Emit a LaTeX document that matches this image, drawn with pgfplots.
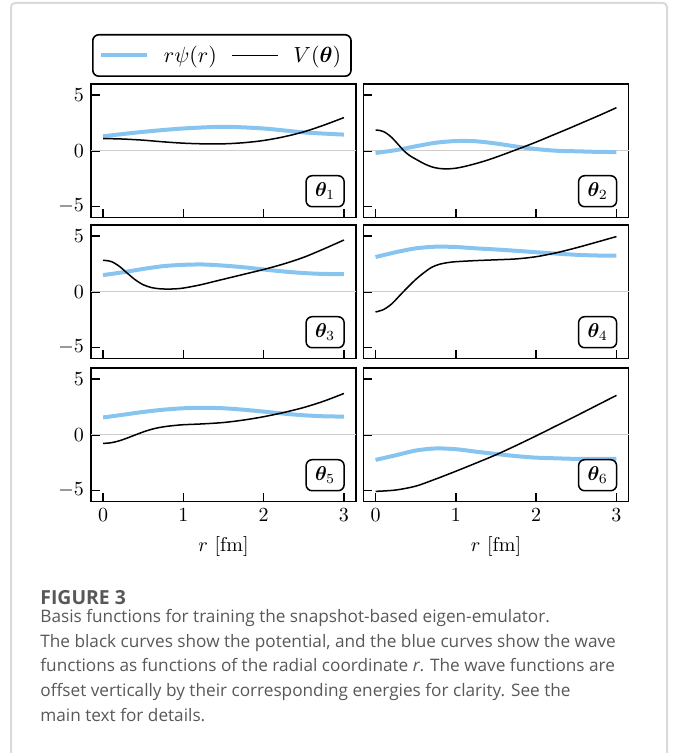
\documentclass[border=0pt]{standalone}
\usepackage{pgfplots}
\pgfplotsset{compat=1.18}
\usepackage{amsmath,bm}
\usepackage{fontspec}
\newfontfamily\capfont{Open Sans}
\definecolor{wfblue}{RGB}{135,196,240}
\definecolor{zerogray}{RGB}{205,205,205}
\definecolor{capgray}{RGB}{88,88,88}
\definecolor{framegray}{RGB}{218,218,218}
\tikzset{
  lab/.style={draw=black, line width=0.75pt, rounded corners=3pt, fill=white,
    anchor=south east, minimum width=19pt, minimum height=15.5pt, inner sep=2pt},
}
\pgfplotsset{
  panel/.style={
    scale only axis, width=132.5pt, height=66.75pt,
    anchor=south west,
    xmin=-0.15, xmax=3.15, ymin=-6, ymax=6,
    xtick={0,1,2,3}, ytick={-5,0,5},
    tick align=inside, xtick pos=bottom, ytick pos=left,
    major tick length=4.25pt,
    axis line style={line width=0.9pt},
    every tick/.style={black, line width=0.8pt},
    xticklabels={},
    clip=false,
  },
  wf/.style={wfblue, line width=2pt, smooth},
  pot/.style={black, line width=0.75pt, smooth},
  zl/.style={zerogray, line width=0.6pt, forget plot},
}
\begin{document}
\begin{tikzpicture}
\useasboundingbox (0pt,0pt) rectangle (339pt,376.5pt);
% frame
\draw[framegray, line width=1pt, rounded corners=2pt] (5.5pt,0pt) -- (5.5pt,375pt) -- (333.5pt,375pt) -- (333.5pt,0pt);

% ---------- panel 1 ----------
\begin{axis}[panel, at={(45.5pt,267.75pt)},
  legend columns=2,
  legend style={at={(axis description cs:0,1)}, anchor=south west, yshift=3.5pt, xshift=0.5pt,
    draw=black, line width=0.8pt, rounded corners=3pt, inner xsep=3pt, inner ysep=3.5pt,
    font=\fontsize{11}{13}\selectfont,
    /tikz/every odd column/.append style={column sep=5.5pt},
    /tikz/every even column/.append style={column sep=5pt}},
  legend image code/.code={\draw[#1] (0pt,0pt) -- (23pt,0pt);},
]
\addplot[zl] coordinates {(-0.15,0) (3.15,0)};
\addplot[wf] coordinates {(0,1.3) (0.5,1.7) (1,2.0) (1.5,2.15) (2,2.0) (2.5,1.65) (3,1.45)};
\addlegendentry{$r\psi(r)$}
\addplot[pot] coordinates {(0,1.1) (0.25,1.05) (0.5,0.95) (0.75,0.8) (1,0.68) (1.25,0.62) (1.5,0.62) (1.75,0.72) (2,0.92) (2.25,1.25) (2.5,1.7) (2.75,2.3) (3,2.98)};
\addlegendentry{$V(\boldsymbol{\theta})$}
\node[lab] at (rel axis cs:0.958,0.075) {$\boldsymbol{\theta}_1$};
\end{axis}

% ---------- panel 2 ----------
\begin{axis}[panel, at={(181.75pt,267.75pt)}, yticklabels={}]
\addplot[zl] coordinates {(-0.15,0) (3.15,0)};
\addplot[wf] coordinates {(0,-0.2) (0.25,0.05) (0.5,0.4) (0.75,0.72) (1,0.87) (1.25,0.85) (1.5,0.65) (1.75,0.38) (2,0.15) (2.25,0.0) (2.5,-0.05) (2.75,-0.1) (3,-0.12)};
\addplot[pot] coordinates {(0,1.85) (0.05,1.83) (0.1,1.72) (0.15,1.5) (0.2,1.2) (0.25,0.82) (0.3,0.42) (0.35,0.02) (0.4,-0.3) (0.45,-0.55) (0.5,-0.75) (0.6,-1.15) (0.7,-1.45) (0.8,-1.6) (0.9,-1.63) (1.0,-1.57) (1.1,-1.43) (1.2,-1.25) (1.3,-1.05) (1.4,-0.83) (1.5,-0.58) (1.6,-0.32) (1.7,-0.05) (1.8,0.22) (2.0,0.78) (2.2,1.38) (2.4,1.98) (2.6,2.6) (2.8,3.22) (3.0,3.87)};
\node[lab] at (rel axis cs:0.958,0.075) {$\boldsymbol{\theta}_2$};
\end{axis}

% ---------- panel 3 ----------
\begin{axis}[panel, at={(45.5pt,197.25pt)}]
\addplot[zl] coordinates {(-0.15,0) (3.15,0)};
\addplot[wf] coordinates {(0,1.5) (0.25,1.75) (0.5,2.05) (0.75,2.3) (1,2.42) (1.25,2.45) (1.5,2.35) (1.75,2.2) (2,2.0) (2.25,1.82) (2.5,1.68) (2.75,1.6) (3,1.58)};
\addplot[pot] coordinates {(0,2.83) (0.1,2.72) (0.2,2.3) (0.3,1.68) (0.4,1.08) (0.5,0.63) (0.6,0.38) (0.7,0.27) (0.8,0.24) (0.9,0.26) (1.0,0.33) (1.2,0.6) (1.4,0.95) (1.6,1.3) (1.8,1.65) (2.0,2.0) (2.25,2.5) (2.5,3.1) (2.75,3.85) (3,4.65)};
\node[lab] at (rel axis cs:0.958,0.075) {$\boldsymbol{\theta}_3$};
\end{axis}

% ---------- panel 4 ----------
\begin{axis}[panel, at={(181.75pt,197.25pt)}, yticklabels={}]
\addplot[zl] coordinates {(-0.15,0) (3.15,0)};
\addplot[wf] coordinates {(0,3.12) (0.25,3.55) (0.5,3.9) (0.75,4.05) (1,4.02) (1.25,3.9) (1.5,3.8) (1.75,3.68) (2,3.55) (2.25,3.43) (2.5,3.32) (2.75,3.26) (3,3.24)};
\addplot[pot] coordinates {(0,-1.82) (0.1,-1.6) (0.2,-1.1) (0.3,-0.35) (0.4,0.4) (0.5,1.1) (0.6,1.7) (0.7,2.2) (0.8,2.48) (0.9,2.62) (1.0,2.7) (1.25,2.8) (1.5,2.87) (1.75,2.95) (2,3.15) (2.25,3.5) (2.5,3.95) (2.75,4.45) (3,4.96)};
\node[lab] at (rel axis cs:0.958,0.075) {$\boldsymbol{\theta}_4$};
\end{axis}

% ---------- panel 5 ----------
\begin{axis}[panel, at={(45.5pt,125.75pt)}, xticklabels={0,1,2,3}, xlabel={$r$ [fm]}]
\addplot[zl] coordinates {(-0.15,0) (3.15,0)};
\addplot[wf] coordinates {(0,1.55) (0.25,1.8) (0.5,2.05) (0.75,2.25) (1,2.38) (1.25,2.42) (1.5,2.38) (1.75,2.25) (2,2.08) (2.25,1.9) (2.5,1.75) (2.75,1.66) (3,1.63)};
\addplot[pot] coordinates {(0,-0.78) (0.1,-0.72) (0.2,-0.55) (0.3,-0.3) (0.4,-0.02) (0.5,0.25) (0.6,0.48) (0.7,0.65) (0.8,0.76) (0.9,0.84) (1.0,0.9) (1.25,0.98) (1.5,1.1) (1.75,1.32) (2,1.62) (2.25,2.0) (2.5,2.45) (2.75,3.02) (3,3.71)};
\node[lab] at (rel axis cs:0.958,0.075) {$\boldsymbol{\theta}_5$};
\end{axis}

% ---------- panel 6 ----------
\begin{axis}[panel, at={(181.75pt,125.75pt)}, yticklabels={}, xticklabels={0,1,2,3}, xlabel={$r$ [fm]}]
\addplot[zl] coordinates {(-0.15,0) (3.15,0)};
\addplot[wf] coordinates {(0,-2.26) (0.25,-1.85) (0.5,-1.42) (0.75,-1.23) (1,-1.3) (1.25,-1.52) (1.5,-1.73) (1.75,-1.92) (2,-2.06) (2.25,-2.12) (2.5,-2.17) (2.75,-2.18) (3,-2.17)};
\addplot[pot] coordinates {(0,-5.09) (0.25,-4.97) (0.5,-4.62) (0.75,-3.98) (1.0,-3.28) (1.25,-2.55) (1.5,-1.8) (1.75,-0.97) (2,-0.1) (2.25,0.8) (2.5,1.7) (2.75,2.62) (3,3.54)};
\node[lab] at (rel axis cs:0.958,0.075) {$\boldsymbol{\theta}_6$};
\end{axis}

% ---------- caption ----------
\begin{scope}[every node/.style={anchor=base west, inner sep=0pt, text=capgray}]
\node at (20pt,74pt) {\capfont\fontsize{9.7}{11}\selectfont\bfseries FIGURE 3};
\node at (20pt,65pt) {\capfont\fontsize{8.6}{10}\selectfont Basis functions for training the snapshot-based eigen-emulator.};
\node at (20pt,52.75pt) {\capfont\fontsize{8.6}{10}\selectfont The black curves show the potential, and the blue curves show the wave};
\node at (20pt,40.5pt) {\capfont\fontsize{8.6}{10}\selectfont functions as functions of the radial coordinate \textit{r}. The wave functions are};
\node at (20pt,28.25pt) {\capfont\fontsize{8.6}{10}\selectfont offset vertically by their corresponding energies for clarity. See the};
\node at (20pt,16pt) {\capfont\fontsize{8.6}{10}\selectfont main text for details.};
\end{scope}
\end{tikzpicture}
\end{document}
